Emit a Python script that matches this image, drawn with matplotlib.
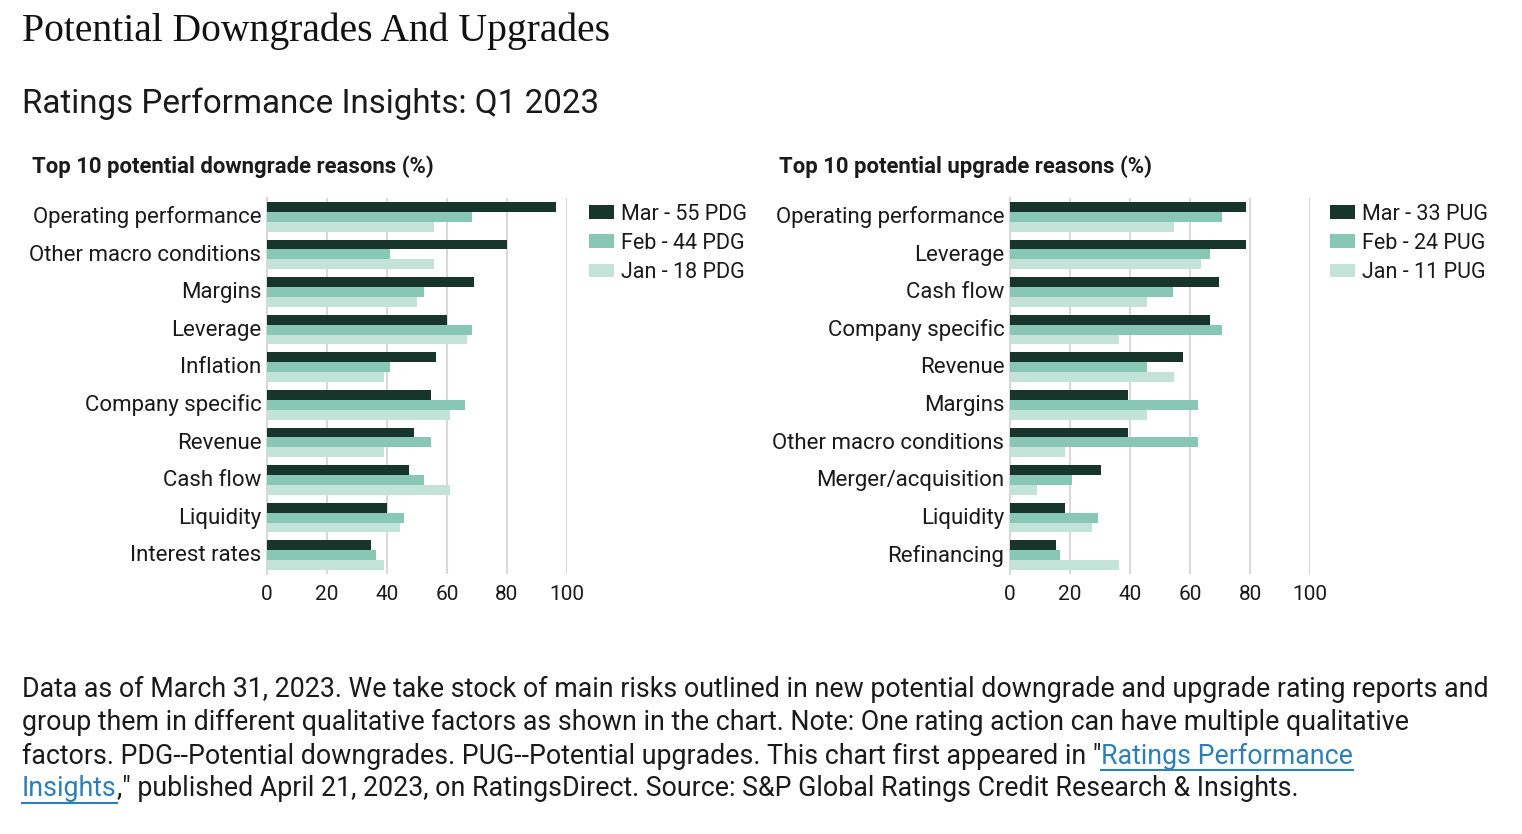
import matplotlib.pyplot as plt
import numpy as np

plt.rcParams["font.family"] = ["Roboto", "DejaVu Sans"]

W, H = 1522, 834

down_cats = ["Operating performance", "Other macro conditions", "Margins", "Leverage", "Inflation",
             "Company specific", "Revenue", "Cash flow", "Liquidity", "Interest rates"]
down_mar = [96.4, 80.0, 69.1, 60.0, 56.4, 54.5, 49.1, 47.3, 40.0, 34.5]
down_feb = [68.2, 40.9, 52.3, 68.2, 40.9, 65.9, 54.5, 52.3, 45.5, 36.4]
down_jan = [55.6, 55.6, 50.0, 66.7, 38.9, 61.1, 38.9, 61.1, 44.4, 38.9]
down_labels = ["Mar - 55 PDG", "Feb - 44 PDG", "Jan - 18 PDG"]

up_cats = ["Operating performance", "Leverage", "Cash flow", "Company specific", "Revenue",
           "Margins", "Other macro conditions", "Merger/acquisition", "Liquidity", "Refinancing"]
up_mar = [78.8, 78.8, 69.7, 66.7, 57.6, 39.4, 39.4, 30.3, 18.2, 15.2]
up_feb = [70.8, 66.7, 54.2, 70.8, 45.8, 62.5, 62.5, 20.8, 29.2, 16.7]
up_jan = [54.5, 63.6, 45.5, 36.4, 54.5, 45.5, 18.2, 9.1, 27.3, 36.4]
up_labels = ["Mar - 33 PUG", "Feb - 24 PUG", "Jan - 11 PUG"]

colors = ["#17352b", "#88c7b3", "#c3e3d9"]
txt = "#1a1a1a"

fig = plt.figure(figsize=(W / 100, H / 100), dpi=100)


def px_axes(x0, x1, y0, y1):
    return fig.add_axes([x0 / W, 1 - y1 / H, (x1 - x0) / W, (y1 - y0) / H])


def draw_panel(ax, cats, series, labels, legend_x):
    y = np.arange(len(cats))
    h = 10 / 38
    handles = []
    for k, vals in enumerate(series):
        b = ax.barh(y + (k - 1) * h, vals, height=h, color=colors[k], label=labels[k], zorder=3)
        handles.append(b)
    ax.set_xlim(0, 100)
    ax.set_ylim(len(cats) - 0.5, -0.5)
    ax.set_yticks(y - 0.05)
    ax.set_yticklabels(cats, fontsize=16, color=txt)
    ax.set_xticks([0, 20, 40, 60, 80, 100])
    ax.tick_params(axis="both", length=0, labelsize=15, colors=txt)
    ax.tick_params(axis="y", labelsize=16, pad=4)
    ax.tick_params(axis="x", pad=8)
    ax.grid(axis="x", color="#d9d9d9", linewidth=1.5, zorder=0)
    for s in ["top", "right", "bottom"]:
        ax.spines[s].set_visible(False)
    ax.spines["left"].set_color("#d9d9d9")
    ax.spines["left"].set_linewidth(1.5)
    fig.legend(handles=handles, labels=labels, loc="upper left",
               bbox_to_anchor=(legend_x / W, 1 - 195 / H), frameon=False,
               fontsize=15.5, handlelength=1.2, handleheight=0.6, handletextpad=0.3,
               labelspacing=0.38, borderaxespad=0, labelcolor=txt)


ax1 = px_axes(267, 567, 198, 574)
draw_panel(ax1, down_cats, [down_mar, down_feb, down_jan], down_labels, 580)
ax2 = px_axes(1010, 1310, 198, 574)
draw_panel(ax2, up_cats, [up_mar, up_feb, up_jan], up_labels, 1321)

fig.text(22 / W, 1 - 31 / H, "Potential Downgrades And Upgrades", fontsize=28.5,
         family="Liberation Serif", color="#111111", va="center", ha="left")
fig.text(22 / W, 1 - 104 / H, "Ratings Performance Insights: Q1 2023", fontsize=23.9,
         color=txt, va="center", ha="left")
fig.text(32 / W, 1 - 167 / H, "Top 10 potential downgrade reasons (%)", fontsize=15.9,
         fontweight="bold", color=txt, va="center", ha="left")
fig.text(779 / W, 1 - 167 / H, "Top 10 potential upgrade reasons (%)", fontsize=15.9,
         fontweight="bold", color=txt, va="center", ha="left")

# footnote with link text
fs = 19.3
link = "#2d7fb8"
lines_y = [689, 722, 756, 789]
fig.text(22 / W, 1 - lines_y[0] / H,
         "Data as of March 31, 2023. We take stock of main risks outlined in new potential downgrade and upgrade rating reports and",
         fontsize=fs, color=txt, va="center")
fig.text(22 / W, 1 - lines_y[1] / H,
         "group them in different qualitative factors as shown in the chart. Note: One rating action can have multiple qualitative",
         fontsize=fs, color=txt, va="center")
t3 = fig.text(22 / W, 1 - lines_y[2] / H,
              "factors. PDG--Potential downgrades. PUG--Potential upgrades. This chart first appeared in \"",
              fontsize=fs, color=txt, va="center")
fig.canvas.draw()
r = fig.canvas.get_renderer()
bb = t3.get_window_extent(r)
l3 = fig.text(bb.x1 / W, 1 - lines_y[2] / H, "Ratings Performance", fontsize=fs, color=link, va="center")
bb3 = l3.get_window_extent(r)
l4 = fig.text(22 / W, 1 - lines_y[3] / H, "Insights", fontsize=fs, color=link, va="center")
bb4 = l4.get_window_extent(r)
fig.text(bb4.x1 / W, 1 - lines_y[3] / H,
         ",\" published April 21, 2023, on RatingsDirect. Source: S&P Global Ratings Credit Research & Insights.",
         fontsize=fs, color=txt, va="center")
for b, yy in [(bb3, lines_y[2]), (bb4, lines_y[3])]:
    uy = 1 - (yy + 14) / H
    fig.add_artist(plt.Line2D([b.x0 / W, b.x1 / W], [uy, uy], color=link, linewidth=1.5))

fig.savefig("out.png", dpi=100, facecolor="white")
